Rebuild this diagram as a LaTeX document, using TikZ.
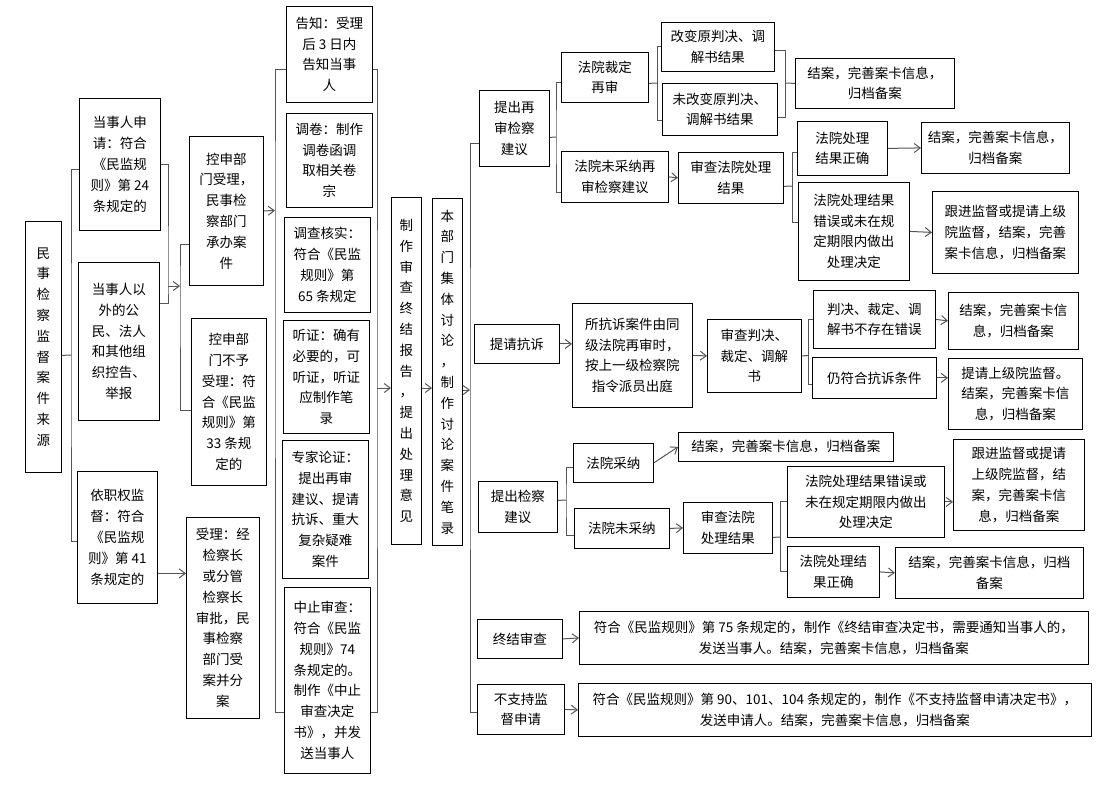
\documentclass[tikz,border=0pt]{standalone}
\usepackage{fontspec}
\setmainfont{Noto Sans CJK SC}
\usetikzlibrary{arrows.meta}
\definecolor{lnkgray}{HTML}{555555}

\begin{document}
\begin{tikzpicture}[
  x=1pt,y=-1pt,
  >={Straight Barb[length=6pt,width=9pt]},
  every node/.style={font=\fontsize{13.5}{20.8}\selectfont},
  box/.style={draw=black,line width=0.8pt,align=center,inner sep=0pt,anchor=north west},
  sz/.style 2 args={minimum width=#1pt,minimum height=#2pt},
  lnk/.style={draw=lnkgray,line width=1pt}
]
\useasboundingbox (0,0) rectangle (1118,790);

\node[box,sz={36}{251}] (root) at (25,221) {民\\事\\检\\察\\监\\督\\案\\件\\来\\源};
\node[box,sz={81}{132}] (src1) at (79,98) {当事人申\\请：符合\\《民监规\\则》第 24\\条规定的};
\node[box,sz={81}{158}] (src2) at (78,262) {当事人以\\外的公\\民、法人\\和其他组\\织控告、\\举报};
\node[box,sz={80}{132}] (src3) at (77,471) {依职权监\\督：符合\\《民监规\\则》第 41\\条规定的};
\node[box,sz={74}{149}] (acc) at (189,136) {控申部\\门受理，\\民事检\\察部门\\承办案\\件};
\node[box,sz={75}{167}] (rej) at (191,318) {控申部\\门不予\\受理：符\\合《民监\\规则》第\\33 条规\\定的};
\node[box,sz={73}{201}] (acc2) at (186,517) {受理：经\\检察长\\或分管\\检察长\\审批，民\\事检察\\部门受\\案并分\\案};

\node[box,sz={86}{96}] (c1) at (286,6) {告知：受理\\后 3 日内\\告知当事\\人};
\node[box,sz={86}{94}] (c2) at (286,113) {调卷：制作\\调卷函调\\取相关卷\\宗};
\node[box,sz={86}{95}] (c3) at (284,217) {调查核实：\\符合《民监\\规则》第\\65 条规定};
\node[box,sz={86}{113}] (c4) at (283,320) {听证：确有\\必要的，可\\听证，听证\\应制作笔\\录};
\node[box,sz={86}{138}] (c5) at (282,440) {专家论证：\\提出再审\\建议、提请\\抗诉、重大\\复杂疑难\\案件};
\node[box,sz={86}{186}] (c6) at (284,587) {中止审查：\\符合《民监\\规则》74\\条规定的。\\制作《中止\\审查决定\\书》，并发\\送当事人};

\node[box,sz={30}{347}] (rep) at (391,197) {制\\作\\审\\查\\终\\结\\报\\告\\，\\提\\出\\处\\理\\意\\见};
\node[box,sz={30}{347}] (disc) at (432,198) {本\\部\\门\\集\\体\\讨\\论\\，\\制\\作\\讨\\论\\案\\件\\笔\\录};

\node[box,sz={70}{76}] (r1) at (479,90) {提出再\\审检察\\建议};
\node[box,sz={87}{50}] (r2) at (561,52) {法院裁定\\再审};
\node[box,sz={113}{49}] (r3) at (661,22) {改变原判决、调\\解书结果};
\node[box,sz={115}{52}] (r4) at (662,83) {未改变原判决、\\调解书结果};
\node[box,sz={159}{50}] (r5) at (795,58) {结案，完善案卡信息，\\归档备案};
\node[box,sz={107}{51}] (r6) at (561,151) {法院未采纳再\\审检察建议};
\node[box,sz={105}{51}] (r7) at (678,152) {审查法院处理\\结果};
\node[box,sz={90}{54}] (r8) at (797,121) {法院处理\\结果正确};
\node[box,sz={148}{51}] (r9) at (921,122) {结案，完善案卡信息，\\归档备案};
\node[box,sz={111}{98}] (r10) at (798,182) {法院处理结果\\错误或未在规\\定期限内做出\\处理决定};
\node[box,sz={146}{82}] (r11) at (932,191) {跟进监督或提请上级\\院监督，结案，完善\\案卡信息，归档备案};

\node[box,sz={85}{39}] (p1) at (474,324) {提请抗诉};
\node[box,sz={120}{104}] (p2) at (572,303) {所抗诉案件由同\\级法院再审时，\\按上一级检察院\\指令派员出庭};
\node[box,sz={94}{73}] (p3) at (707,319) {审查判决、\\裁定、调解\\书};
\node[box,sz={122}{58}] (p4) at (813,290) {判决、裁定、调\\解书不存在错误};
\node[box,sz={124}{41}] (p5) at (812,357) {仍符合抗诉条件};
\node[box,sz={130}{57}] (p6) at (948,292) {结案，完善案卡信\\息，归档备案};
\node[box,sz={134}{71}] (p7) at (948,358) {提请上级院监督。\\结案，完善案卡信\\息，归档备案};

\node[box,sz={79}{51}] (s1) at (478,481) {提出检察\\建议};
\node[box,sz={80}{39}] (s2) at (573,443) {法院采纳};
\node[box,sz={95}{40}] (s3) at (574,508) {法院未采纳};
\node[box,sz={215}{29}] (s4) at (678,432) {结案，完善案卡信息，归档备案};
\node[box,sz={89}{51}] (s5) at (683,502) {审查法院\\处理结果};
\node[box,sz={157}{71}] (s6) at (787,466) {法院处理结果错误或\\未在规定期限内做出\\处理决定};
\node[box,sz={92}{51}] (s7) at (787,546) {法院处理结\\果正确};
\node[box,sz={131}{91}] (s8) at (953,439) {跟进监督或提请\\上级院监督，结\\案，完善案卡信\\息，归档备案};
\node[box,sz={188}{51}] (s9) at (895,547) {结案，完善案卡信息，归档\\备案};

\node[box,sz={85}{39}] (t1) at (477,619) {终结审查};
\node[box,sz={509}{53}] (t2) at (579,611) {符合《民监规则》第 75 条规定的，制作《终结审查决定书，需要通知当事人的，\\发送当事人。结案，完善案卡信息，归档备案};
\node[box,sz={87}{50}] (u1) at (477,684) {不支持监\\督申请};
\node[box,sz={513}{53}] (u2) at (578,683) {符合《民监规则》第 90、101、104 条规定的，制作《不支持监督申请决定书》，\\发送申请人。结案，完善案卡信息，归档备案};

\coordinate (j0) at (71,355);
\coordinate (j1) at (168,286);
\coordinate (j2) at (180,286);
\coordinate (j3) at (275,210.5);
\coordinate (j4) at (377,388);
\coordinate (j5) at (470,390);
\coordinate (a3) at ([yshift=-36pt]src3.east);

\draw[lnk] ([yshift=-8.5pt]root.east) -- (j0);
\draw[lnk] ([yshift=-5pt]src1.west) -| (j0) |- ([yshift=-4pt]src3.west);
\draw[lnk] (src1.east) -| (j1) |- ([yshift=38pt]src2.east);
\draw[->,lnk] (j1) -- (j2);
\draw[lnk] ([yshift=-33.5pt]acc.west) -| (j2) |- ([yshift=-8.5pt]rej.west);
\draw[->,lnk] (a3) -- (a3 -| acc2.west);
\draw[->,lnk] (acc.east) -- (j3);
\draw[lnk] ([yshift=-15pt]c1.west) -| (j3) |- ([yshift=-32pt]c6.west);
\draw[lnk] ([yshift=-15pt]c1.east) -| (j4) |- ([yshift=-32pt]c6.east);
\draw[->,lnk] (j4) -- (rep.west |- j4);
\draw[->,lnk] (rep.east |- j4) -- (disc.west |- j4);
\draw[->,lnk] (disc.east |- j5) -- (j5);
\draw[lnk] ([yshift=-15pt]r1.west) -| (j5) |- ([yshift=-3pt]u1.west);

\coordinate (j6) at (556,137);
\coordinate (j7) at (657,83);
\coordinate (j8) at (785,83);
\coordinate (j9) at (792,186);
\draw[lnk] ([yshift=-9pt]r1.east) -- (j6);
\draw[lnk] ([yshift=-5pt]r2.west) -| (j6) |- ([yshift=-15.5pt]r6.west);
\draw[lnk] ([yshift=-6pt]r2.east) -- (j7);
\draw[lnk] (r3.west) -| (j7) |- ([yshift=-11pt]r4.west);
\draw[lnk] ([yshift=-3.5pt]r3.east) -| (j8) |- ([yshift=-8pt]r4.east);
\draw[lnk] (j8) -- (r5.west);
\draw[->,lnk] (r6.east) -- (r7.west);
\draw[lnk] ([yshift=-8.5pt]r7.east) -- (j9);
\draw[lnk] ([yshift=-4pt]r8.west) -| (j9) |- ([yshift=9pt]r10.west);
\draw[->,lnk] (r8.east) -- (r9.west);
\draw[->,lnk] (r10.east) -- (r11.west);

\coordinate (j10) at (808,355.5);
\draw[->,lnk] (p1.east) -- (p1.east -| p2.west);
\draw[->,lnk] (p2.east) -- (p3.west);
\draw[lnk] (p3.east) -- (j10);
\draw[lnk] (p4.west) -| (j10) |- ([yshift=-6.5pt]p5.west);
\draw[->,lnk] (p4.east) -- (p6.west);
\draw[->,lnk] (p5.east) -- (p5.east -| p7.west);

\coordinate (j11) at (566,500);
\coordinate (j12) at (780,537);
\draw[lnk] ([yshift=6.5pt]s1.east) -- (j11);
\draw[lnk] ([yshift=-4.5pt]s2.west) -| (j11) |- ([yshift=-7pt]s3.west);
\draw[->,lnk] (s2.east) -- (s4.west);
\draw[->,lnk] (s3.east) -- (s5.west);
\draw[lnk] ([yshift=-9.5pt]s5.east) -- (j12);
\draw[lnk] (s6.west) -| (j12) |- (s7.west);
\draw[->,lnk] (s6.east) -- (s6.east -| s8.west);
\draw[->,lnk] (s7.east) -- (s9.west);

\draw[->,lnk] (t1.east) -- (t2.west);
\draw[->,lnk] (u1.east) -- (u2.west);
\end{tikzpicture}
\end{document}
